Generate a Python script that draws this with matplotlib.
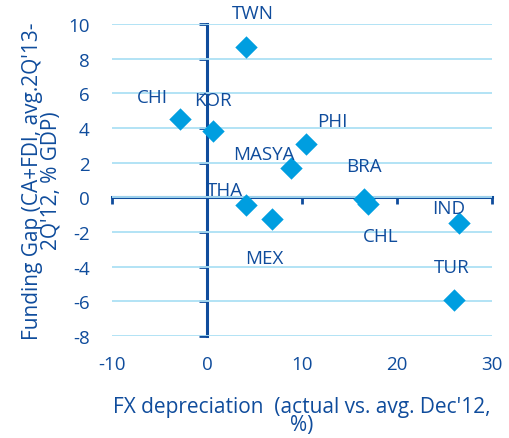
import matplotlib.pyplot as plt

countries = ['TWN', 'CHI', 'KOR', 'PHI', 'MASYA', 'BRA', 'CHL', 'THA', 'MEX', 'IND', 'TUR']
fx_dep = [4.1, -2.8, 0.6, 10.4, 8.8, 16.5, 17.0, 4.1, 6.8, 26.5, 26.0]
fund_gap = [8.7, 4.5, 3.8, 3.1, 1.7, -0.1, -0.4, -0.45, -1.25, -1.5, -5.9]
# label offsets in data units (dx, dy)
lab_off = [(0.75, 1.95), (-2.9, 1.3), (0.0, 1.8), (2.8, 1.3), (-2.8, 0.8), (0.0, 1.9),
           (1.3, -1.85), (-2.2, 0.9), (-0.8, -2.25), (-1.1, 0.9), (-0.2, 1.9)]

blue = '#0f4c9c'
marker_c = '#009ee0'
grid_c = '#ade0f5'

plt.rcParams['font.family'] = ['Open Sans', 'DejaVu Sans']
plt.rcParams['axes.unicode_minus'] = False
fs = 13.5

fig = plt.figure(figsize=(5.1, 4.39), dpi=100)
ax = fig.add_axes([0.2196, 0.2323, 0.745, 0.7107])

ax.set_xlim(-10, 30)
ax.set_ylim(-8, 10)
ax.set_xticks(range(-10, 31, 10))
ax.set_yticks(range(-8, 11, 2))
ax.grid(axis='y', color=grid_c, lw=1.3)
ax.set_axisbelow(True)
for s in ax.spines.values():
    s.set_visible(False)
ax.tick_params(length=0, labelsize=fs, labelcolor=blue)
ax.tick_params(axis='x', pad=14)
ax.tick_params(axis='y', pad=16)

ax.scatter(fx_dep, fund_gap, marker='D', s=130, color=marker_c, zorder=3, lw=0)
for c, x, y, (dx, dy) in zip(countries, fx_dep, fund_gap, lab_off):
    ax.text(x + dx, y + dy, c, ha='center', va='center', fontsize=fs, color=blue)

# axes crossing at zero
sx = ax.secondary_xaxis((0 + 8) / 18)
sx.spines['bottom'].set_color(blue)
sx.spines['bottom'].set_linewidth(2.2)
sx.set_xticks(range(-10, 31, 10))
sx.tick_params(direction='out', length=5, width=2, color=blue, labelbottom=False)

sy = ax.secondary_yaxis((0 + 10) / 40)
sy.spines['left'].set_color(blue)
sy.spines['left'].set_linewidth(2.2)
sy.set_yticks(range(-8, 11, 2))
sy.tick_params(direction='out', length=6, width=2, color=blue, labelleft=False)

ax.set_xlabel("FX depreciation  (actual vs. avg. Dec'12,\n%)", fontsize=15,
              color=blue, labelpad=16, linespacing=0.85)
ax.set_ylabel("Funding Gap (CA+FDI, avg.2Q'13-\n2Q'12, % GDP)", fontsize=15,
              color=blue, labelpad=5, linespacing=0.85)

fig.savefig('out.png', dpi=100)
